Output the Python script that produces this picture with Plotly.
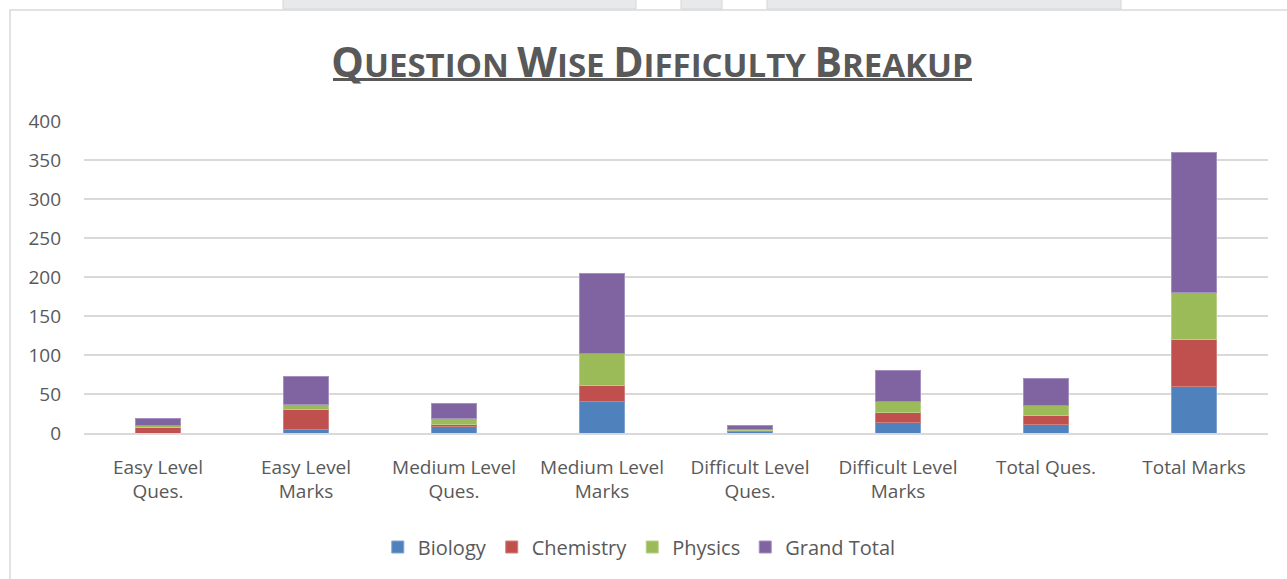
import plotly.graph_objects as go

categories = ["Easy Level<br>Ques.", "Easy Level<br>Marks", "Medium Level<br>Ques.", "Medium Level<br>Marks",
              "Difficult Level<br>Ques.", "Difficult Level<br>Marks", "Total Ques.", "Total Marks"]
biology = [0, 4, 8, 40, 2, 13, 11, 60]
chemistry = [7, 26, 3, 21, 1, 13, 11, 60]
physics = [2, 6, 8, 41, 2, 14, 13, 60]
grand_total = [9, 36, 19, 102, 5, 40, 35, 180]
y_ticks = [0, 50, 100, 150, 200, 250, 300, 350, 400]

series = [("Biology", biology, "#4F81BD", "#7FA3D1"),
          ("Chemistry", chemistry, "#C0504D", "#D27E7C"),
          ("Physics", physics, "#9BBB59", "#B8CF88"),
          ("Grand Total", grand_total, "#8064A2", "#A591C0")]

W, H = 1287, 579
L, R, T, B = 84, 1268, 121, 433

fig = go.Figure()
for name, vals, col, edge in series:
    fig.add_trace(go.Bar(name=name, x=categories, y=vals, marker=dict(color=col, line=dict(color=edge, width=1))))

def px_x(p):
    return (p - L) / (R - L)

def px_y(p):
    return (B - p) / (B - T)

shapes = []
# outer chart border
shapes.append(dict(type="rect", xref="paper", yref="paper", x0=px_x(10), x1=px_x(1300), y0=px_y(600), y1=px_y(10),
                   line=dict(color="#D9D9D9", width=1.5), fillcolor="rgba(0,0,0,0)", layer="below"))
# grey tabs at top
for a, b in [(283, 636), (681, 722), (767, 1121)]:
    shapes.append(dict(type="rect", xref="paper", yref="paper", x0=px_x(a), x1=px_x(b), y0=px_y(9), y1=px_y(-2),
                       line=dict(color="#D6D7D9", width=1), fillcolor="#E8E9EB", layer="below"))
# title underline
shapes.append(dict(type="line", xref="paper", yref="paper", x0=px_x(333), x1=px_x(972), y0=px_y(79.5), y1=px_y(79.5),
                   line=dict(color="#595959", width=3)))

def sc(word, big=41, small=33):
    return f"<span style='font-size:{big}px'>{word[0]}</span><span style='font-size:{small}px'>{word[1:]}</span>"

title_text = "<b>" + " ".join(sc(w) for w in ["QUESTION", "WISE", "DIFFICULTY", "BREAKUP"]) + "</b>"

fig.update_layout(
    width=W, height=H,
    margin=dict(l=L, r=W - R, t=T, b=H - B),
    paper_bgcolor="white", plot_bgcolor="white",
    barmode="stack", bargap=0.69,
    font=dict(family="Open Sans", color="#595959", size=19),
    title=dict(text=title_text, x=652 / W, xanchor="center", xref="container",
               y=1 - 65 / H, yanchor="middle", yref="container",
               font=dict(family="Open Sans", color="#595959", size=33)),
    xaxis=dict(showgrid=False, showline=True, linecolor="#D9D9D9", linewidth=1.5, ticks="",
               ticklabelstandoff=16, tickfont=dict(size=19, color="#595959"), fixedrange=True),
    yaxis=dict(range=[0, 400], tickvals=y_ticks, showgrid=True, gridcolor="#D9D9D9", gridwidth=1.5,
               zeroline=False, showline=False, ticks="", ticklabelstandoff=22,
               tickfont=dict(size=19, color="#595959")),
    legend=dict(orientation="h", x=0.469, xanchor="center", y=px_y(547), yanchor="middle",
                font=dict(size=20, color="#595959"), traceorder="normal", itemclick=False),
    shapes=shapes,
    showlegend=True,
)

fig.write_html("out.html", config={"displayModeBar": False},
               post_script="document.body.style.margin='0px';document.body.style.overflow='hidden';")
